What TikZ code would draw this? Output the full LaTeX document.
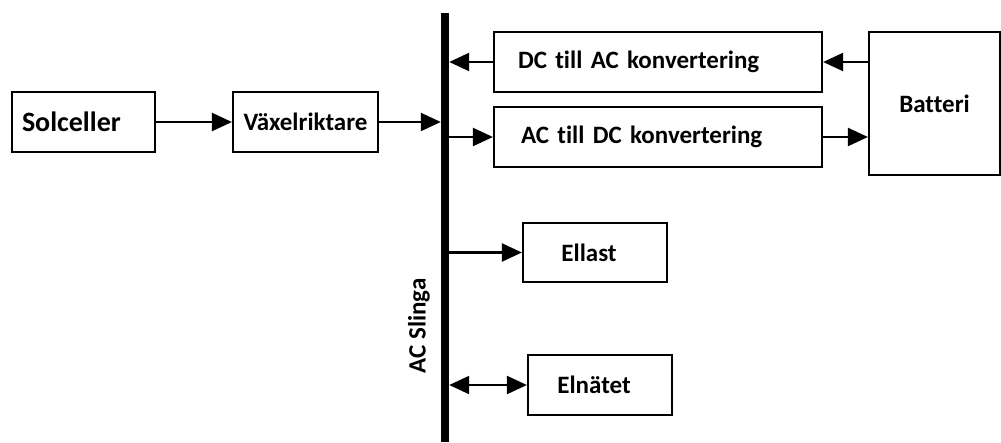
\documentclass[tikz,border=0pt]{standalone}
\usepackage{fontspec}
\setmainfont{Carlito}[Ligatures=NoCommon]
\usetikzlibrary{arrows.meta}
\begin{document}
\begin{tikzpicture}[x=1pt,y=-1pt,
  box/.style={draw=black,line width=2.2pt,fill=white,inner sep=0pt,
    font=\fontsize{25}{30}\selectfont\bfseries},
  arr/.style={line width=2.2pt,-{Triangle[length=20pt,width=18pt]}},
  darr/.style={line width=2.2pt,{Triangle[length=20pt,width=18pt]}-{Triangle[length=20pt,width=18pt]}}]
\useasboundingbox (0,0) rectangle (1001,442);
% bus
\node[fill=black,inner sep=0pt,minimum width=8pt,minimum height=429pt,anchor=north] (bus) at (445,13) {};
\node[rotate=90,font=\fontsize{25}{30}\selectfont\bfseries] (lbl) at (419,326) {AC Slinga};
% boxes
\node[box,minimum width=143pt,minimum height=60pt,text width=123pt,align=left,inner xsep=10pt,font=\fontsize{28}{32}\selectfont\bfseries] (sol) at (83.5,122) {Solceller};
\node[box,minimum width=145pt,minimum height=60pt] (vx) at (305.5,122) {Växelriktare};
\node[box,minimum width=328pt,minimum height=60pt,text width=312pt,align=left,inner xsep=0pt] (dcac) at (658,62) {\hspace*{16pt}DC till AC konvertering};
\node[box,minimum width=328pt,minimum height=60pt,text width=310pt,align=left,inner xsep=0pt] (acdc) at (658,137) {\hspace*{18pt}AC till DC konvertering};
\node[box,minimum width=131pt,minimum height=143pt] (bat) at (934.5,103.5) {Batteri};
\node[box,minimum width=144pt,minimum height=59pt] (ell) at (595,252.5) {\hspace*{-12pt}Ellast};
\node[box,minimum width=144pt,minimum height=60pt] (eln) at (600,385) {\hspace*{-12pt}Elnätet};
% connectors
\draw[arr] (sol.east) -- (vx.west);
\draw[arr] (vx.east) -- (vx.east -| bus.west);
\draw[arr] (dcac.west) -- (dcac.west -| bus.east);
\draw[arr] (acdc.west -| bus.east) -- (acdc.west);
\draw[arr] (bat.west |- dcac.east) -- (dcac.east);
\draw[arr] (acdc.east) -- (bat.west |- acdc.east);
\draw[arr] (ell.west -| bus.east) -- (ell.west);
\draw[darr] (eln.west -| bus.east) -- (eln.west);
\end{tikzpicture}
\end{document}
